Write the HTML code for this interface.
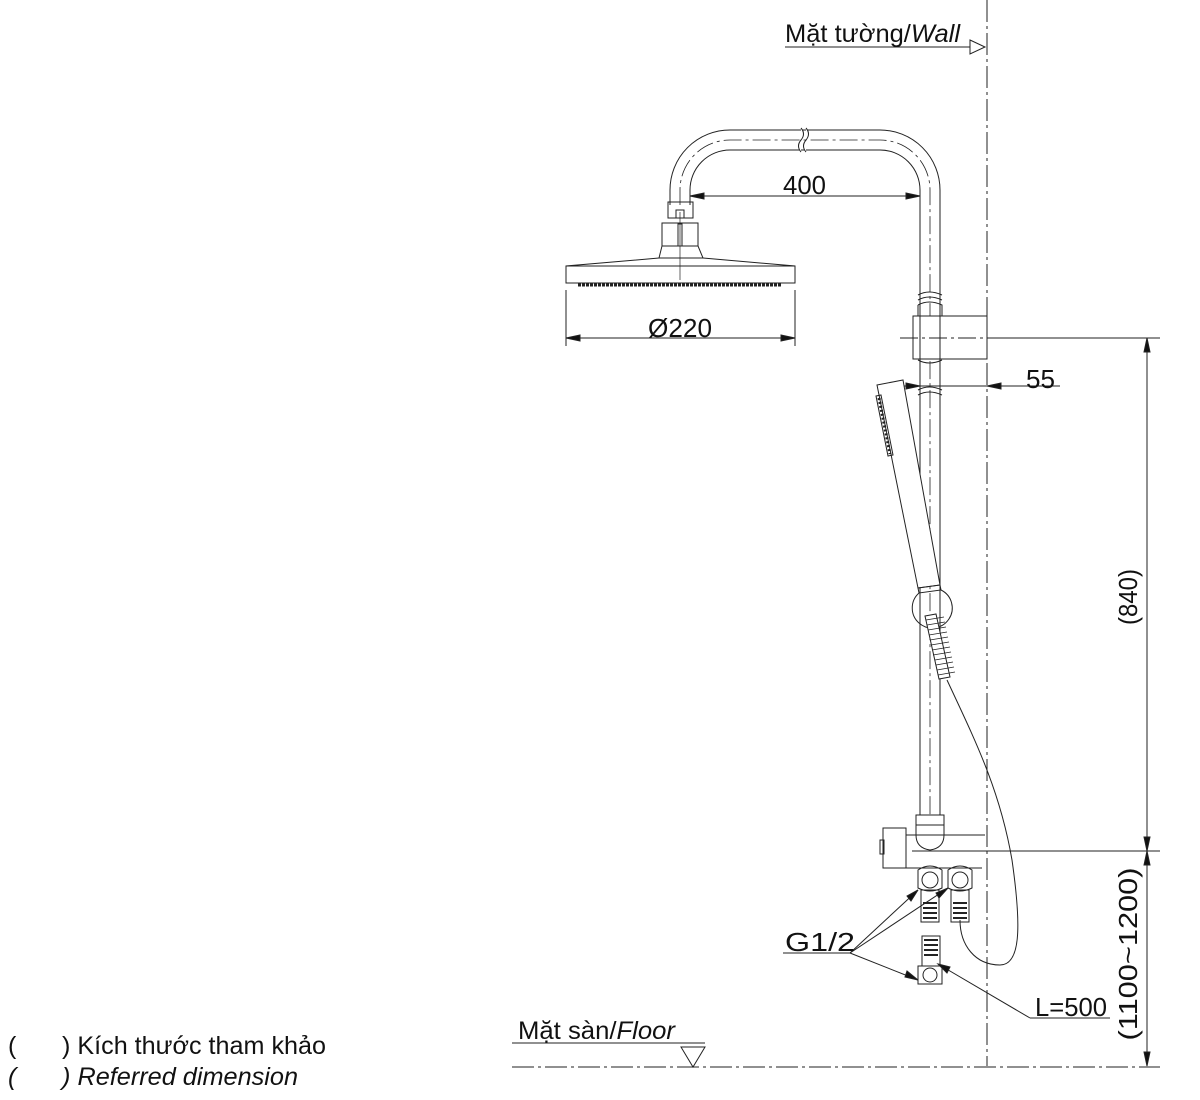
<!DOCTYPE html>
<html><head><meta charset="utf-8"><style>
html,body{margin:0;padding:0;background:#fff;}
svg{display:block;}
text{font-family:"Liberation Sans","DejaVu Sans",sans-serif;fill:#111;}
</style></head><body>
<svg width="1200" height="1100" viewBox="0 0 1200 1100" xmlns="http://www.w3.org/2000/svg">
<g stroke="#222" stroke-width="1" fill="none">
<line x1="987" y1="0" x2="987" y2="1066" stroke-dasharray="22,4,3,4"/>
<line x1="512" y1="1067" x2="1160" y2="1067" stroke-dasharray="22,4,3,4"/>
<line x1="785" y1="47" x2="970" y2="47"/>
<polygon points="970,40 985,47 970,54" fill="#fff"/>
<line x1="512" y1="1043" x2="705" y2="1043"/>
<polygon points="681,1047 705,1047 693,1067" fill="#fff"/>

<path d="M670,205 L670,190 A60,60 0 0 1 730,130 L880,130 A60,60 0 0 1 940,190 L940,820"/>
<path d="M690,205 L690,190 A40,40 0 0 1 730,150 L880,150 A40,40 0 0 1 920,190 L920,820"/>
<path d="M680,205 L680,190 A50,50 0 0 1 730,140 L880,140 A50,50 0 0 1 930,190 L930,830" stroke-dasharray="18,4,3,4" stroke-width="0.8"/>
<path d="M801,128 q5,6 0,12 q-5,6 0,12 M806,128 q5,6 0,12 q-5,6 0,12" stroke="#222" fill="#fff"/>
<path d="M918,295 q11,-6 24,0 M918,300 q11,-6 24,0 M918,390 q11,-6 24,0 M918,395 q11,-6 24,0"/>
<rect x="668" y="202" width="25" height="16"/>
<rect x="676" y="210" width="8" height="8"/>
<path d="M662,223 L698,223 L698,246 L703,258 L659,258 L662,246 Z"/>
<line x1="662" y1="246" x2="698" y2="246"/>
<rect x="678" y="224" width="4" height="22"/>
<line x1="680" y1="212" x2="680" y2="280" stroke-width="0.7"/>
<path d="M659,258 L566,266 L566,283 L795,283 L795,266 L703,258"/>
<line x1="566" y1="266" x2="795" y2="266"/>
<path d="M578,285 h204" stroke-dasharray="3,1" stroke-width="3"/>
<line x1="566" y1="290" x2="566" y2="346"/>
<line x1="795" y1="290" x2="795" y2="346"/>
<line x1="566" y1="338" x2="795" y2="338"/>
<polygon points="566,338 580,335 580,341" fill="#111"/>
<polygon points="795,338 781,335 781,341" fill="#111"/>
<line x1="690" y1="196" x2="920" y2="196"/>
<polygon points="690,196 704,193 704,199" fill="#111"/>
<polygon points="920,196 906,193 906,199" fill="#111"/>
<rect x="913" y="316" width="74" height="43" fill="#fff"/>
<path d="M920,316 L920,390 M940,316 L940,390"/>
<path d="M918,305 q11,-6 24,0 L942,316 M918,305 L918,316 M918,360 q11,6 24,0"/>
<line x1="900" y1="338" x2="1160" y2="338" stroke-dasharray="18,4,3,4"/>
<line x1="987" y1="338" x2="1160" y2="338"/>
<line x1="900" y1="386" x2="1060" y2="386"/>
<polygon points="920,386 906,383 906,389" fill="#111"/>
<polygon points="987,386 1001,383 1001,389" fill="#111"/>
<path d="M877,385 L903,380 L940,585 L918,588 Z" fill="#fff"/>
<path d="M918,588 L940,585 L941,590 L919,593 Z"/>
<path d="M876,396 L881,395 L893,455 L888,456 Z"/>
<path d="M879,398 L890,454" stroke-dasharray="2,2" stroke-width="3"/>
<path d="M919,593 A20,20 0 1 0 941,590" />
<path d="M925,616 L936,614 L950,677 L939,679 Z" fill="#fff"/>
<path d="M926,620 L944,617 M927,625 L945,622 M928,630 L946,627 M929,635 L947,632 M930,640 L948,637 M931,645 L949,642 M932,650 L950,647 M933,655 L951,652 M935,660 L952,657 M936,665 L953,662 M937,670 L954,667 M938,675 L955,672" stroke-width="0.7"/>
<path d="M947,680 C975,740 1000,790 1012,860 C1022,930 1020,965 1000,965 C975,965 960,945 960,920"/>
<path d="M916,815 L944,815 L944,835 Q944,848 930,850 Q916,848 916,835 Z" fill="#fff"/>
<line x1="916" y1="825" x2="944" y2="825"/>
<rect x="883" y="828" width="23" height="40" fill="#fff"/>
<rect x="880" y="840" width="4" height="14"/>
<line x1="906" y1="835" x2="985" y2="835"/>
<line x1="912" y1="851" x2="1160" y2="851"/>
<line x1="906" y1="868" x2="982" y2="868"/>
<g>
<path d="M918,870 q12,-8 24,0 v18 q-12,6 -24,0 Z"/><circle cx="930" cy="880" r="8"/>
<path d="M948,870 q12,-8 24,0 v18 q-12,6 -24,0 Z"/><circle cx="960" cy="880" r="8"/>
<rect x="921" y="890" width="18" height="32"/><rect x="951" y="890" width="18" height="32"/>
<path d="M923,903h14M923,908h14M923,913h14M923,918h14M953,903h14M953,908h14M953,913h14M953,918h14" stroke-width="2"/>
<rect x="922" y="936" width="18" height="30"/>
<path d="M924,940h14M924,945h14M924,950h14M924,955h14" stroke-width="2"/>
<path d="M918,966 h24 v18 h-24 Z"/><circle cx="930" cy="975" r="7"/>
</g>
<line x1="783" y1="953" x2="850" y2="953"/>
<line x1="850" y1="953" x2="918" y2="890"/>
<line x1="850" y1="953" x2="948" y2="888"/>
<line x1="850" y1="953" x2="918" y2="980"/>
<polygon points="918,890 907,896 911,901" fill="#111"/>
<polygon points="948,888 936,893 939,898" fill="#111"/>
<polygon points="918,980 905,977 907,971" fill="#111"/>
<line x1="1030" y1="1018" x2="1110" y2="1018"/>
<line x1="1030" y1="1018" x2="938" y2="964"/>
<polygon points="938,964 950,967 947,973" fill="#111"/>
<line x1="1147" y1="338" x2="1147" y2="1066"/>
<polygon points="1147,338 1144,352 1150,352" fill="#111"/>
<polygon points="1147,851 1144,837 1150,837" fill="#111"/>
<polygon points="1147,851 1144,865 1150,865" fill="#111"/>
<polygon points="1147,1066 1144,1052 1150,1052" fill="#111"/>
</g>
<g font-size="25">
<text x="785" y="42" textLength="175" lengthAdjust="spacingAndGlyphs">Mặt tường/<tspan font-style="italic">Wall</tspan></text>
<text x="518" y="1039" textLength="157" lengthAdjust="spacingAndGlyphs">Mặt sàn/<tspan font-style="italic">Floor</tspan></text>
<text x="783" y="194" font-size="26" textLength="43" lengthAdjust="spacingAndGlyphs">400</text>
<text x="648" y="337" font-size="26" textLength="64" lengthAdjust="spacingAndGlyphs">Ø220</text>
<text x="1026" y="388" font-size="26" textLength="29" lengthAdjust="spacingAndGlyphs">55</text>
<text x="785" y="951" font-size="26" textLength="70" lengthAdjust="spacingAndGlyphs">G1/2</text>
<text x="1035" y="1016" font-size="26" textLength="72" lengthAdjust="spacingAndGlyphs">L=500</text>
<text transform="translate(1137,597) rotate(-90)" text-anchor="middle" font-size="26" textLength="56" lengthAdjust="spacingAndGlyphs">(840)</text>
<text transform="translate(1137,954) rotate(-90)" text-anchor="middle" font-size="26" textLength="173" lengthAdjust="spacingAndGlyphs">(1100~1200)</text>
<text x="8" y="1054">(</text><text x="62" y="1054" textLength="264" lengthAdjust="spacingAndGlyphs">) Kích thước tham khảo</text>
<text x="8" y="1085" font-style="italic">(</text><text x="62" y="1085" font-style="italic" textLength="236" lengthAdjust="spacingAndGlyphs">) Referred dimension</text>
</g>
</svg>
</body></html>
